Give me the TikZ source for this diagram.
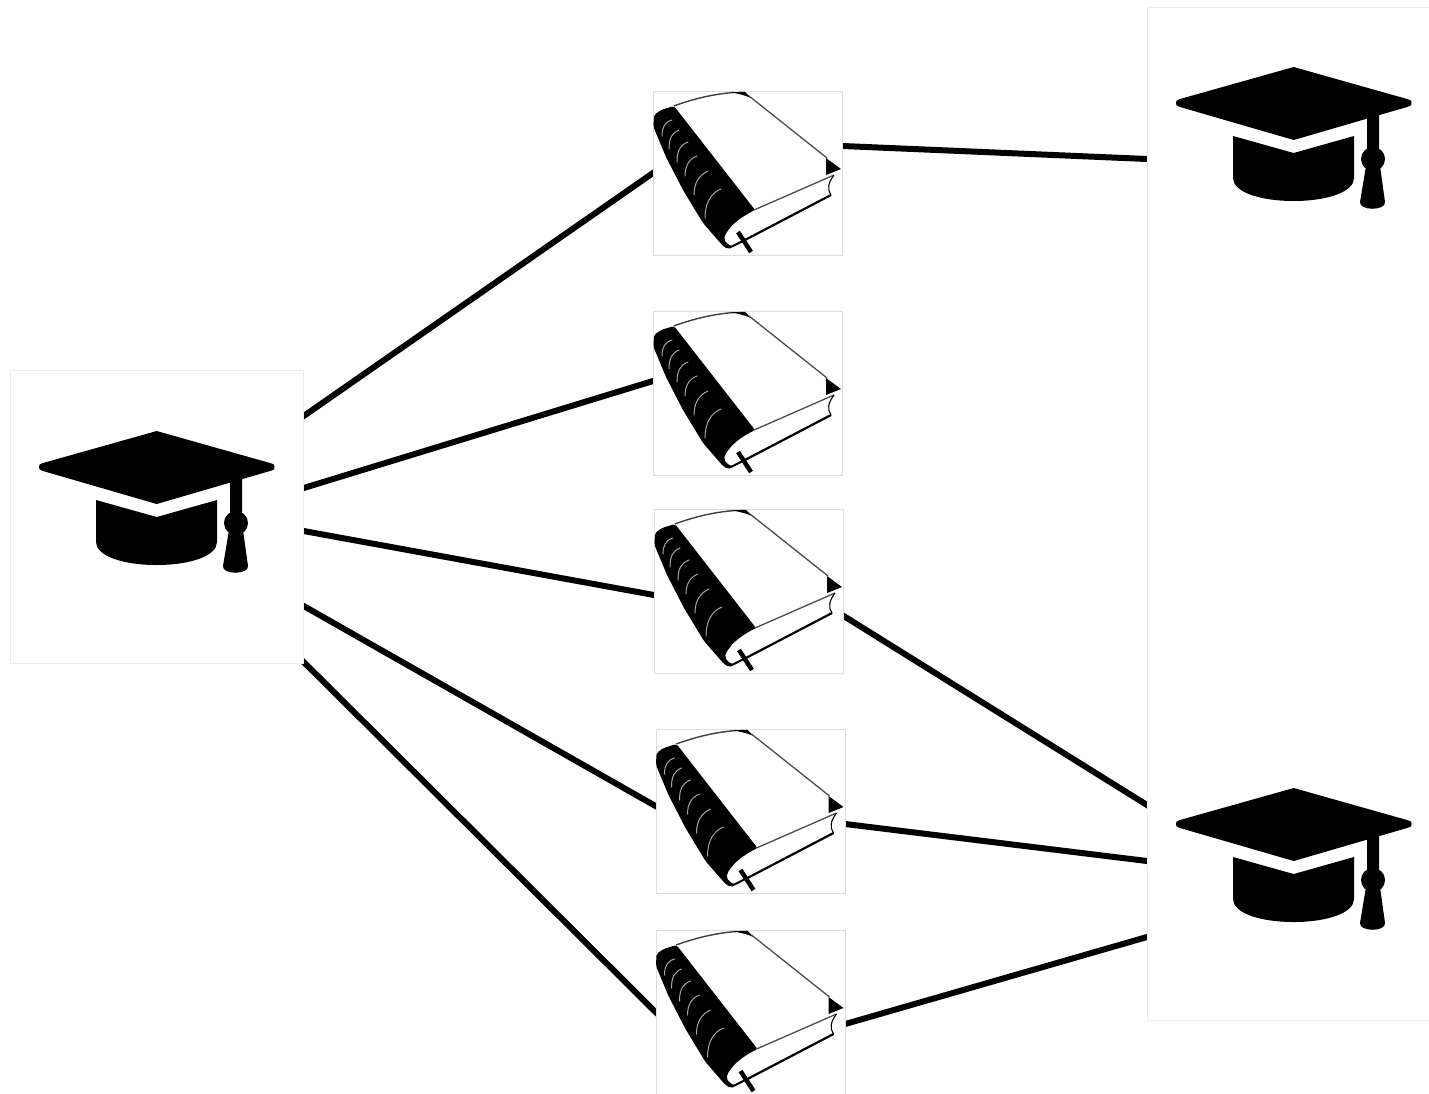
\documentclass[tikz,border=0pt]{standalone}
\usetikzlibrary{calc,backgrounds}
\tikzset{
  x=1pt,y=-1pt,
  hatbox/.style={draw=black!7,line width=.7pt,fill=white,rectangle,inner sep=0pt,anchor=north west},
  bookbox/.style={draw=black!13,line width=.7pt,fill=white,rectangle,inner sep=0pt,anchor=north west,minimum width=189pt,minimum height=164pt},
  link/.style={draw=black,line width=6pt,shorten <=-5pt,shorten >=-5pt},
  pics/gradhat/.style={code={
    \fill[black] (146.7,61) -- (260,93) .. controls (265,94.5) and (264.5,95) .. (264.5,97) .. controls (264.5,99) and (265,99.5) .. (260,101) -- (146.7,134) -- (33,101) .. controls (29,99.5) and (29,99) .. (29,97) .. controls (29,95) and (29,94.5) .. (33,93) -- cycle;
    \fill[black] (86,130) -- (146.7,147) -- (207,130) -- (207,172) .. controls (207,186) and (180,195) .. (146.7,195) .. controls (113,195) and (86,186) .. (86,172) -- cycle;
    \fill[black] (220,111) -- (232,107) -- (232,150) -- (220,150) -- cycle;
    \fill[black] (226,153) circle (12);
    \fill[black] (219,160) -- (233,160) -- (238,196) .. controls (239,205) and (212,205) .. (213,196) -- cycle;
  }},
  pics/openbook/.style={code={
    \draw[black!75,line width=1.4pt] (20.7,15) .. controls (40,8) and (60,3) .. (81,1.5);
    \fill[black] (78,1.2) -- (92,0.8) -- (98,7) .. controls (92,4) and (85,3) .. (78,1.2) -- cycle;
    \draw[black!70,line width=1.3pt] (96,5) -- (174,67);
    \fill[black] (173,67) -- (188,78) -- (173,84) -- cycle;
    \draw[black!70,line width=1.3pt] (101,119) -- (181,84);
    \draw[black,line width=1.1pt] (181,84) .. controls (175,92) and (174,98) .. (178,104);
    % spine
    \fill[black,rounded corners=2pt] (21,15) -- (8,19) -- (1,24) -- (0.5,36) -- (13,66) -- (30,99) -- (50,132) -- (70,155) -- (75,158) -- (80,156)
      -- (73,152) .. controls (71,148) and (71,145) .. (74,141) .. controls (80,132) and (90,125) .. (102,119) -- cycle;
    % lower cover
    \draw[black,line width=2.2pt] (178,104) -- (90,150);
    \draw[black,line width=2pt,line cap=round] (76,156.5) .. controls (81,155) and (85,152) .. (90,150);
    \draw[black,line width=4.5pt] (85,141) -- (98,161);
    % ribs
    \begin{scope}[draw=black!35,line width=1pt,line cap=round]
      \draw (19,29) .. controls (12,31) and (9,36) .. (9,45);
      \draw (26,39) .. controls (19,42) and (16,47) .. (16,58);
      \draw (35,51) .. controls (27,54) and (24,60) .. (24,71);
      \draw (44,65) .. controls (36,68) and (32,75) .. (32,85);
      \draw (55,80) .. controls (46,84) and (41,92) .. (41,104);
      \draw (68,98) .. controls (58,102) and (52,112) .. (52,127);
    \end{scope}
  }}
}
\begin{document}
\begin{tikzpicture}
\useasboundingbox (0,0) rectangle (1429,1093);
\node[hatbox,minimum width=293pt,minimum height=293pt] (hl) at (10,370) {};
\node[hatbox,minimum width=290pt,minimum height=1013pt] (hr) at (1147,7) {};
\node[bookbox] (b1) at (653,91) {};
\node[bookbox] (b2) at (653,311) {};
\node[bookbox] (b3) at (654,509) {};
\node[bookbox] (b4) at (655.5,729) {};
\node[bookbox] (b5) at (655.5,930) {};
\pic at (10,370) {gradhat};
\pic at (1147,6) {gradhat};
\pic at (1147,727) {gradhat};
\pic at (653,91) {openbook};
\pic at (653,311) {openbook};
\pic at (654,509) {openbook};
\pic at (655.5,729) {openbook};
\pic at (655.5,930) {openbook};
\begin{scope}[on background layer]
\fill[white] (0,0) rectangle (1429,1093);
\draw[link] ($(hl.north east)+(0,46)$) -- ($(b1.north west)+(0,82)$);
\draw[link] ($(hl.north east)+(0,118)$) -- ($(b2.north west)+(0,70)$);
\draw[link] ($(hl.north east)+(0,161)$) -- ($(b3.north west)+(0,86)$);
\draw[link] ($(hl.north east)+(0,236)$) -- ($(b4.north west)+(0,77)$);
\draw[link] ($(hl.north east)+(-1,291)$) -- ($(b5.north west)+(0,82)$);
\draw[link] ($(b1.north east)+(0,55)$) -- ($(hr.north west)+(0,152)$);
\draw[link] ($(b3.north east)+(0,107)$) -- ($(hr.north west)+(0,798)$);
\draw[link] ($(b4.north east)+(0,95)$) -- ($(hr.north west)+(0,854)$);
\draw[link] ($(b5.north east)+(0,94)$) -- ($(hr.north west)+(0,930)$);
\end{scope}
\end{tikzpicture}
\end{document}
